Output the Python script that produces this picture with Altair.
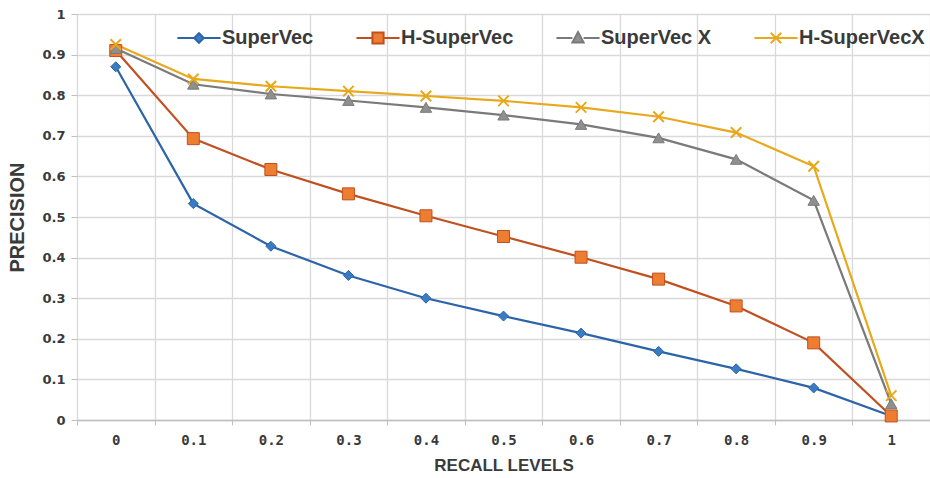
import altair as alt
import pandas as pd

recall = ["0", "0.1", "0.2", "0.3", "0.4", "0.5", "0.6", "0.7", "0.8", "0.9", "1"]
series = ["SuperVec", "H-SuperVec", "SuperVec X", "H-SuperVecX"]
supervec = [0.87, 0.533, 0.428, 0.356, 0.300, 0.256, 0.214, 0.169, 0.126, 0.079, 0.010]
h_supervec = [0.910, 0.693, 0.617, 0.557, 0.503, 0.452, 0.401, 0.347, 0.281, 0.190, 0.010]
supervec_x = [0.915, 0.827, 0.803, 0.787, 0.770, 0.751, 0.728, 0.695, 0.642, 0.541, 0.040]
h_supervec_x = [0.925, 0.840, 0.822, 0.810, 0.798, 0.786, 0.770, 0.747, 0.708, 0.625, 0.060]
y_ticks = [0, 0.1, 0.2, 0.3, 0.4, 0.5, 0.6, 0.7, 0.8, 0.9, 1]

line_colors = ["#2C64A8", "#C0501F", "#7A7A7A", "#E8A81C"]
fill_colors = ["#3A7CC4", "#ED7D31", "#8F8F8F", "#E8A81C"]
stroke_colors = ["#2C64A8", "#C0501F", "#7A7A7A", "#E8A81C"]
shapes = ["diamond", "square", "triangle-up", "M-1,-1L1,1M-1,1L1,-1"]
sizes = [100, 144, 130, 110]
stroke_widths = [1, 1, 1, 2]
legend_paths = [
    "M-5.4,0L-1.2,0M1.2,0L5.4,0M0,-1.2L1.2,0L0,1.2L-1.2,0Z",
    "M-5.4,0L-1.4,0M1.4,0L5.4,0M-1.4,-1.4L1.4,-1.4L1.4,1.4L-1.4,1.4Z",
    "M-5.4,0L-1.4,0M1.4,0L5.4,0M0,-1.5L1.4,1.1L-1.4,1.1Z",
    "M-5.4,0L5.4,0M-1.3,-1.3L1.3,1.3M-1.3,1.3L1.3,-1.3",
]

rows = []
for name, vals in zip(series, [supervec, h_supervec, supervec_x, h_supervec_x]):
    for r, v in zip(recall, vals):
        rows.append({"recall": r, "series": name, "value": v})
df = pd.DataFrame(rows)

grid_color = "#D9D9D9"
text_color = "#3A3A3A"

x_enc = alt.X(
    "recall:N",
    sort=recall,
    scale=alt.Scale(type="band", domain=recall, paddingInner=0, paddingOuter=0),
    axis=alt.Axis(
        title="RECALL LEVELS",
        labelAngle=0,
        tickBand="extent",
        grid=True,
        gridColor=grid_color,
        gridWidth=1.3,
        domainColor="#BFBFBF",
        domainWidth=1.3,
        tickColor="#BFBFBF",
        tickSize=5,
        labelPadding=8,
        labelFont="DejaVu Sans Mono",
        labelFontSize=14,
        labelFontWeight="bold",
        labelColor=text_color,
        titleFont="Liberation Sans",
        titleFontSize=17,
        titleFontWeight="bold",
        titleColor=text_color,
        titlePadding=10,
    ),
)
y_enc = alt.Y(
    "value:Q",
    scale=alt.Scale(domain=[0, 1], nice=False),
    axis=alt.Axis(
        title="PRECISION",
        values=y_ticks,
        format="~g",
        domain=False,
        grid=True,
        gridColor=grid_color,
        gridWidth=1.3,
        tickColor="#BFBFBF",
        tickSize=6,
        labelPadding=6,
        labelFont="DejaVu Sans",
        labelFontSize=13,
        labelFontWeight="bold",
        labelColor=text_color,
        titleFont="Liberation Sans",
        titleFontSize=20,
        titleFontWeight="bold",
        titleColor=text_color,
        titlePadding=14,
    ),
)

base = alt.Chart(df)
layers = []
for i, name in enumerate(series):
    sub = base.transform_filter(alt.datum.series == name)
    layers.append(
        sub.mark_line(color=line_colors[i], strokeWidth=2.2).encode(x=x_enc, y=y_enc)
    )
for i, name in enumerate(series):
    sub = base.transform_filter(alt.datum.series == name)
    filled = i != 3
    pt = sub.mark_point(
        shape=shapes[i],
        size=sizes[i],
        filled=filled,
        fill=fill_colors[i] if filled else "transparent",
        stroke=stroke_colors[i],
        strokeWidth=stroke_widths[i],
        opacity=1,
    ).encode(x=x_enc, y=y_enc)
    layers.append(pt)

leg = alt.Legend(
    title=None,
    orient="none",
    legendX=96,
    legendY=14,
    direction="horizontal",
    columnPadding=38,
    padding=0,
    symbolSize=64,
    symbolStrokeWidth=2,
    symbolOffset=16,
    symbolOpacity=1,
    labelOffset=13,
    labelFont="Liberation Sans",
    labelFontSize=20,
    labelFontWeight="bold",
    labelColor=text_color,
)
legend_layer = base.mark_point(filled=True, opacity=0).encode(
    x=x_enc,
    y=y_enc,
    shape=alt.Shape("series:N", scale=alt.Scale(domain=series, range=legend_paths), legend=leg),
    fill=alt.Fill("series:N", scale=alt.Scale(domain=series, range=fill_colors), legend=leg),
    stroke=alt.Stroke("series:N", scale=alt.Scale(domain=series, range=stroke_colors), legend=leg),
)
layers.append(legend_layer)

chart = alt.layer(*layers).properties(
    width=853,
    height=406,
    autosize=alt.AutoSizeParams(type="none"),
    padding={"left": 77, "top": 14, "right": 0, "bottom": 58},
).configure_view(stroke=None).configure(background="white")

chart.save("out.html", embed_options={"renderer": "svg", "actions": False})
